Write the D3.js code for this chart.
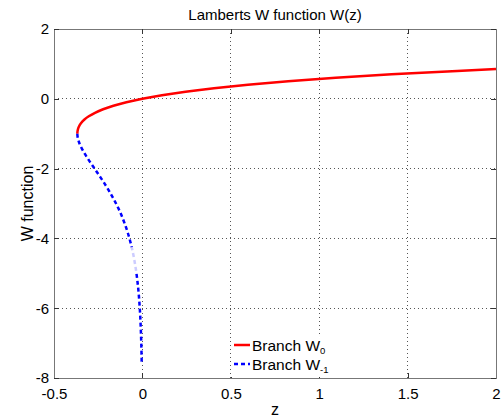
<!DOCTYPE html>
<html><head><meta charset="utf-8">
<script src="https://cdn.jsdelivr.net/npm/d3@7"></script>
<style>
body{margin:0;background:#fff;}
text{font-family:"Liberation Sans",Arial,Helvetica,sans-serif;fill:#000;}
</style></head>
<body><svg id="c" width="502" height="419"></svg>
<script>
// Branch W0 : z values and W values
const w0Z = [-0.36788,-0.36781,-0.36740,-0.36591,-0.35946,-0.34761,-0.32929,-0.30327,-0.26813,-0.22225,-0.16375,-0.09048,0,0.11052,0.24428,0.40496,0.59673,0.82436,1.09327,1.40963,1.78043,2.0];
const w0W = [-1,-0.98,-0.95,-0.9,-0.8,-0.7,-0.6,-0.5,-0.4,-0.3,-0.2,-0.1,0,0.1,0.2,0.3,0.4,0.5,0.6,0.7,0.8,0.8526];
// Branch W-1
const wm1Z = [-0.36788,-0.36781,-0.36744,-0.36616,-0.36143,-0.35429,-0.33470,-0.30410,-0.27067,-0.23715,-0.20521,-0.17580,-0.14936,-0.12575,-0.10569,-0.08817,-0.07326,-0.06062,-0.05000,-0.04113,-0.03369,-0.02248,-0.01487,-0.00977,-0.00638,-0.00380];
const wm1W = [-1,-1.02,-1.05,-1.1,-1.2,-1.3,-1.5,-1.75,-2,-2.25,-2.5,-2.75,-3,-3.25,-3.5,-3.75,-4,-4.25,-4.5,-4.75,-5,-5.5,-6,-6.5,-7,-7.6];
const xTicks = [-0.5,0,0.5,1,1.5,2];
const yTicks = [-8,-6,-4,-2,0,2];
const titleText = "Lamberts W function W(z)";
const xLabel = "z", yLabel = "W function";
const legendNames = [["Branch W","0"],["Branch W","-1"]];

const svg = d3.select("#c");
const L=54,R=496,T=29,B=378;
const x = d3.scaleLinear().domain([-0.5,2]).range([L,R]);
const y = d3.scaleLinear().domain([-8,2]).range([B,T]);
const fmt = d => String(d);

// grid
const g = svg.append("g");
g.selectAll(".gx").data(xTicks.slice(1,-1)).join("line")
  .attr("x1",d=>x(d)).attr("x2",d=>x(d)).attr("y1",T).attr("y2",B)
  .attr("stroke","#555").attr("stroke-width",1).attr("stroke-dasharray","1,3").attr("shape-rendering","crispEdges");
g.selectAll(".gy").data(yTicks.slice(1,-1)).join("line")
  .attr("y1",d=>y(d)).attr("y2",d=>y(d)).attr("x1",L).attr("x2",R)
  .attr("stroke","#555").attr("stroke-width",1).attr("stroke-dasharray","1,3").attr("shape-rendering","crispEdges");

// lines
const line = d3.line().x(d=>x(d[0])).y(d=>y(d[1])).curve(d3.curveMonotoneY);
const d0 = w0Z.map((z,i)=>[z,w0W[i]]);
const d1 = wm1Z.map((z,i)=>[z,wm1W[i]]);
svg.append("path").datum(d0).attr("d",line).attr("fill","none").attr("stroke","#ff0000").attr("stroke-width",2.5);
svg.append("path").datum(d1).attr("d",line).attr("fill","none").attr("stroke","#0000ff").attr("stroke-width",2.5)
  .attr("stroke-dasharray","4,3");
// faded middle part overlay
svg.append("path").datum(d1.filter(d=>d[1]<=-4.25&&d[1]>=-5.25)).attr("d",line).attr("fill","none")
  .attr("stroke","#fff").attr("stroke-width",4).attr("stroke-opacity",0.8);

// axes
const xb = svg.append("g").attr("transform",`translate(0,${B})`)
  .call(d3.axisBottom(x).tickValues(xTicks).tickSize(-5).tickPadding(10).tickFormat(fmt));
const xt = svg.append("g").attr("transform",`translate(0,${T})`)
  .call(d3.axisTop(x).tickValues(xTicks).tickSize(-5).tickFormat(""));
const yl = svg.append("g").attr("transform",`translate(${L},0)`)
  .call(d3.axisLeft(y).tickValues(yTicks).tickSize(-5).tickPadding(5).tickFormat(fmt));
const yr = svg.append("g").attr("transform",`translate(${R},0)`)
  .call(d3.axisRight(y).tickValues(yTicks).tickSize(-5).tickFormat(""));
[xb,xt,yl,yr].forEach(a=>{
  a.selectAll("path").attr("stroke","#777").attr("stroke-width",1.2).attr("shape-rendering","crispEdges");
  a.selectAll("line").attr("stroke","#333").attr("shape-rendering","crispEdges");
  a.selectAll("text").style("font-size","15px").style("font-family","Liberation Sans, Arial, sans-serif").attr("fill","#000");
});

// legend
const lg = svg.append("g");
lg.append("rect").attr("x",231).attr("y",336).attr("width",102).attr("height",41).attr("fill","#fff");
lg.append("line").attr("x1",234).attr("x2",250).attr("y1",345).attr("y2",345).attr("stroke","#ff0000").attr("stroke-width",2.5);
lg.append("line").attr("x1",234).attr("x2",250).attr("y1",364).attr("y2",364).attr("stroke","#0000ff").attr("stroke-width",2.5).attr("stroke-dasharray","4,3");
legendNames.forEach((n,i)=>{
  const t = lg.append("text").attr("x",252).attr("y",351+i*19).style("font-size","15.5px");
  t.append("tspan").text(n[0]);
  t.append("tspan").attr("dy",3).style("font-size","9.5px").text(n[1]);
});

// title & labels
svg.append("text").attr("x",(L+R)/2).attr("y",20).attr("text-anchor","middle").style("font-size","15px").text(titleText);
svg.append("text").attr("x",(L+R)/2).attr("y",415).attr("text-anchor","middle").style("font-size","16px").text(xLabel);
svg.append("text").attr("transform",`translate(33,${(T+B)/2}) rotate(-90)`).attr("text-anchor","middle").style("font-size","16px").text(yLabel);
</script></body></html>
